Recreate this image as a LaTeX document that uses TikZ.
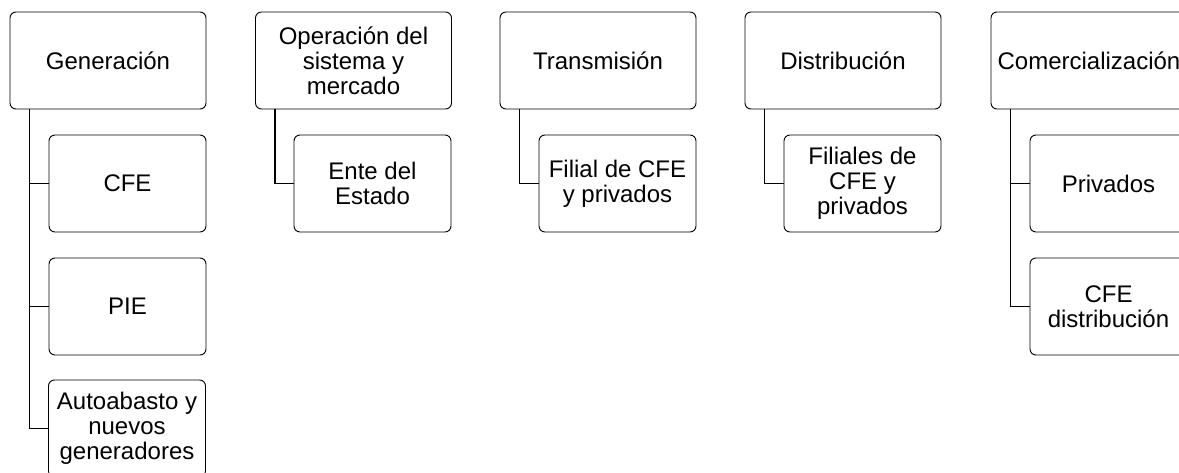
\documentclass[tikz,border=0pt]{standalone}
\usepackage{fontspec}
\setmainfont{Liberation Sans}

\begin{document}
\begin{tikzpicture}[x=1pt, y=1pt,
    box/.style={draw, line width=0.9pt, rounded corners=6pt, align=center,
      minimum width=196pt, minimum height=97pt, inner sep=0pt,
      font=\fontsize{24}{25}\selectfont},
    sub/.style={box, minimum width=157pt},
    wire/.style={line width=1.2pt}]
        % Frame of the picture:
        \useasboundingbox (0, 0) rectangle (1179, -473);
        \clip (0, 0) rectangle (1179, -473);
        % Top row:
        \node[box] (gen) at (108, -60.5) {Generación};
        \node[box] (ope) at (353.5, -60.5) {Operación del\\sistema y\\mercado};
        \node[box] (tra) at (598, -60.5) {Transmisión};
        \node[box] (dis) at (843, -60.5) {Distribución};
        \node[box] (com) at (1089, -60.5) {Comercialización};
        % Second level:
        \node[sub] (cfe) at (127.5, -183.5) {CFE};
        \node[sub] (pie) at (127.5, -306.5) {PIE};
        \node[sub] (aut) at (127, -428.5) {Autoabasto y\\nuevos\\generadores};
        \node[sub] (ent) at (372.5, -183.5) {Ente del\\Estado};
        \node[sub] (fil) at (617.5, -183.5) {Filial de CFE\\y privados};
        \node[sub] (fis) at (862.5, -183.5) {Filiales de\\CFE y\\privados};
        \node[sub] (pri) at (1108.5, -183.5) {Privados};
        \node[sub] (cfd) at (1108.5, -306.5) {CFE\\distribución};
        % Wires:
        \draw[wire] ([xshift=20pt]gen.south west) |- (cfe.west);
        \draw[wire] ([xshift=20pt]gen.south west) |- (pie.west);
        \draw[wire] ([xshift=20pt]gen.south west) |- (aut.west);
        \draw[wire] ([xshift=20pt]ope.south west) |- (ent.west);
        \draw[wire] ([xshift=20pt]tra.south west) |- (fil.west);
        \draw[wire] ([xshift=20pt]dis.south west) |- (fis.west);
        \draw[wire] ([xshift=20pt]com.south west) |- (pri.west);
        \draw[wire] ([xshift=20pt]com.south west) |- (cfd.west);
\end{tikzpicture}
\end{document}
